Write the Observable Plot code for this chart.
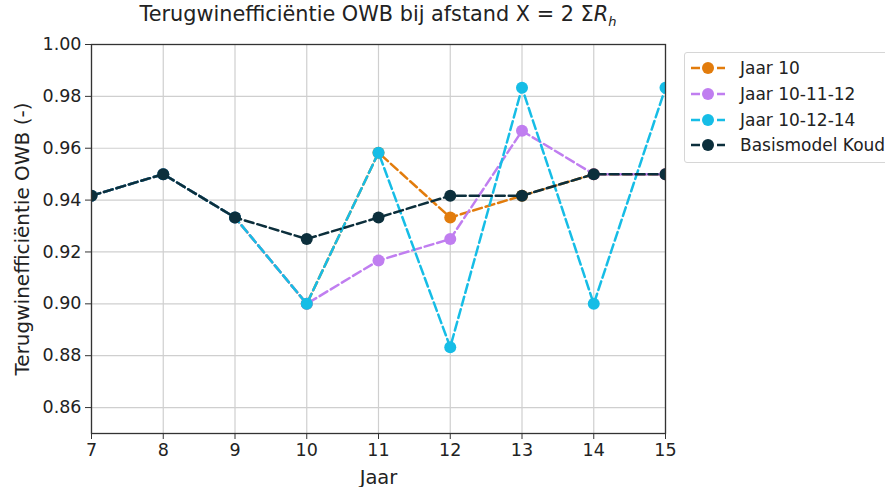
<!DOCTYPE html>
<html>
<head>
<meta charset="utf-8">
<script src="https://cdn.jsdelivr.net/npm/d3@7"></script>
<script src="https://cdn.jsdelivr.net/npm/@observablehq/plot@0.6"></script>
<style>
  body { margin: 0; background: #fff; font-family: "DejaVu Sans", sans-serif; }
  #wrap { position: relative; width: 885px; height: 487px; overflow: hidden; }
  #title { position: absolute; left: 91px; width: 574px; top: 2px; text-align: center; font-size: 20.8px; color: #222; white-space: nowrap; }
  #legend { position: absolute; left: 684px; top: 52px; width: 215px; height: 111px; border: 1px solid #d6d6d6; border-radius: 3px; box-sizing: border-box; background: #fff; }
  .row { position: absolute; left: 5px; height: 20px; display: flex; align-items: center; font-size: 17px; color: #222; white-space: nowrap; }
  .row svg { margin-right: 14px; }
</style>
</head>
<body>
<div id="wrap">
  <div id="chart"></div>
  <div id="title">Terugwinefficiëntie OWB bij afstand X = 2 Σ<i>R</i><sub style="font-size:13px"><i>h</i></sub></div>
  <div id="legend"></div>
</div>
<script>
const years = [7, 8, 9, 10, 11, 12, 13, 14, 15];
const seriesNames = ["Jaar 10", "Jaar 10-11-12", "Jaar 10-12-14", "Basismodel Koud"];
const colors = ["#e27c0c", "#c07ef0", "#16bde6", "#0c2f3c"];
const jaar10      = [0.9417, 0.95, 0.9333, 0.90, 0.9583, 0.9333, 0.9417, 0.95, 0.95];
const jaar101112  = [0.9417, 0.95, 0.9333, 0.90, 0.9167, 0.925, 0.9667, 0.95, 0.95];
const jaar101214  = [0.9417, 0.95, 0.9333, 0.90, 0.9583, 0.8833, 0.9833, 0.90, 0.9833];
const basismodel  = [0.9417, 0.95, 0.9333, 0.925, 0.9333, 0.9417, 0.9417, 0.95, 0.95];
const yTicks = [0.86, 0.88, 0.90, 0.92, 0.94, 0.96, 0.98, 1.00];
const xTicks = years;

const allSeries = [jaar10, jaar101112, jaar101214, basismodel];
const data = [];
allSeries.forEach((vals, i) => vals.forEach((v, j) => data.push({series: seriesNames[i], year: years[j], value: v})));

const marks = [
  Plot.gridX(xTicks, {stroke: "#cfcfcf", strokeOpacity: 1, strokeWidth: 1.2}),
  Plot.gridY(yTicks, {stroke: "#cfcfcf", strokeOpacity: 1, strokeWidth: 1.2}),
];
seriesNames.forEach((name, i) => {
  const d = data.filter(r => r.series === name);
  marks.push(Plot.line(d, {x: "year", y: "value", stroke: colors[i], strokeWidth: 2.5, strokeDasharray: "9,4", clip: true}));
  marks.push(Plot.dot(d, {x: "year", y: "value", fill: colors[i], r: 6, clip: true}));
});
marks.push(Plot.frame({stroke: "#333", strokeWidth: 1.3}));
marks.push(Plot.axisX(xTicks, {tickSize: 6, tickPadding: 4, fontSize: 17.5, label: null, stroke: "#333"}));
marks.push(Plot.axisY(yTicks, {tickSize: 6, tickPadding: 4, fontSize: 17.5, label: null, tickFormat: d3.format(".2f"), stroke: "#333"}));
marks.push(Plot.text(["Jaar"], {frameAnchor: "bottom", dy: 50, fontSize: 19.5, fill: "#222"}));
marks.push(Plot.text(["Terugwinefficiëntie OWB (-)"], {frameAnchor: "left", textAnchor: "middle", dx: -69, rotate: -90, fontSize: 20, fill: "#222"}));

const chart = Plot.plot({
  width: 885, height: 487,
  marginLeft: 91, marginRight: 220, marginTop: 44, marginBottom: 54,
  style: {fontFamily: "DejaVu Sans, sans-serif", fontSize: "17px", color: "#222", background: "#fff"},
  x: {domain: [7, 15]},
  y: {domain: [0.85, 1.00]},
  marks
});
document.getElementById("chart").appendChild(chart);

const legend = document.getElementById("legend");
const rowsY = [5, 31, 57, 82];
seriesNames.forEach((name, i) => {
  const row = document.createElement("div");
  row.className = "row";
  row.style.top = rowsY[i] + "px";
  row.innerHTML = `<svg width="36" height="14"><line x1="1" y1="7" x2="35" y2="7" stroke="${colors[i]}" stroke-width="2.5" stroke-dasharray="9,4"/><circle cx="18" cy="7" r="6" fill="${colors[i]}"/></svg>${name}`;
  legend.appendChild(row);
});
</script>
</body>
</html>
